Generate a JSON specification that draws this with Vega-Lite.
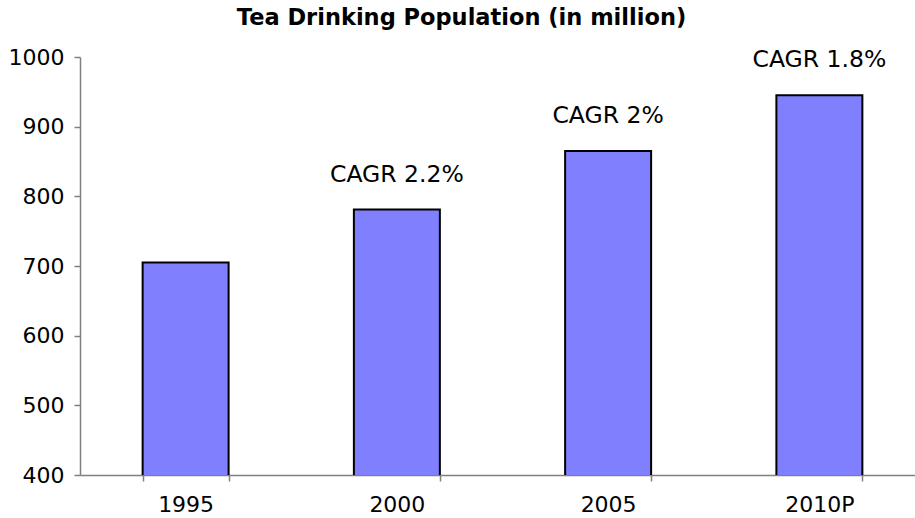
{
  "$schema": "https://vega.github.io/schema/vega-lite/v6.json",
  "width": 845,
  "height": 418,
  "autosize": {"type": "none"},
  "padding": {"left": 80, "top": 57, "right": 0, "bottom": 43},
  "background": "white",
  "title": {
    "text": "Tea Drinking Population (in million)",
    "font": "DejaVu Sans",
    "fontSize": 22.5,
    "fontWeight": "bold",
    "color": "black",
    "anchor": "middle",
    "frame": "group",
    "dx": -41,
    "offset": -1,
    "baseline": "alphabetic"
  },
  "data": {
    "values": [
      {"year": "1995", "population": 705, "label": ""},
      {"year": "2000", "population": 781, "label": "CAGR 2.2%"},
      {"year": "2005", "population": 865, "label": "CAGR 2%"},
      {"year": "2010P", "population": 945, "label": "CAGR 1.8%"}
    ]
  },
  "config": {
    "view": {"stroke": null},
    "axis": {
      "labelFont": "DejaVu Sans",
      "labelFontSize": 22,
      "labelColor": "black",
      "domainColor": "#808080",
      "tickColor": "#808080",
      "domainWidth": 1.5,
      "tickWidth": 1.5,
      "grid": false,
      "title": null
    }
  },
  "encoding": {
    "x": {
      "field": "year",
      "type": "nominal",
      "sort": null,
      "scale": {"paddingInner": 0.593, "paddingOuter": 0.2965},
      "axis": {"labelAngle": 0, "tickBand": "extent", "tickSize": 6, "labelPadding": 13}
    },
    "y": {
      "field": "population",
      "type": "quantitative",
      "scale": {"domain": [400, 1000], "zero": false},
      "axis": {"values": [400, 500, 600, 700, 800, 900, 1000], "format": "d", "tickSize": 6, "labelPadding": 10}
    }
  },
  "layer": [
    {
      "mark": {"type": "bar", "color": "#8080FF", "stroke": "black", "strokeWidth": 2, "clip": true}
    },
    {
      "mark": {"type": "text", "font": "DejaVu Sans", "fontSize": 23.5, "color": "black", "baseline": "alphabetic", "dy": -28},
      "encoding": {"text": {"field": "label"}}
    }
  ]
}
